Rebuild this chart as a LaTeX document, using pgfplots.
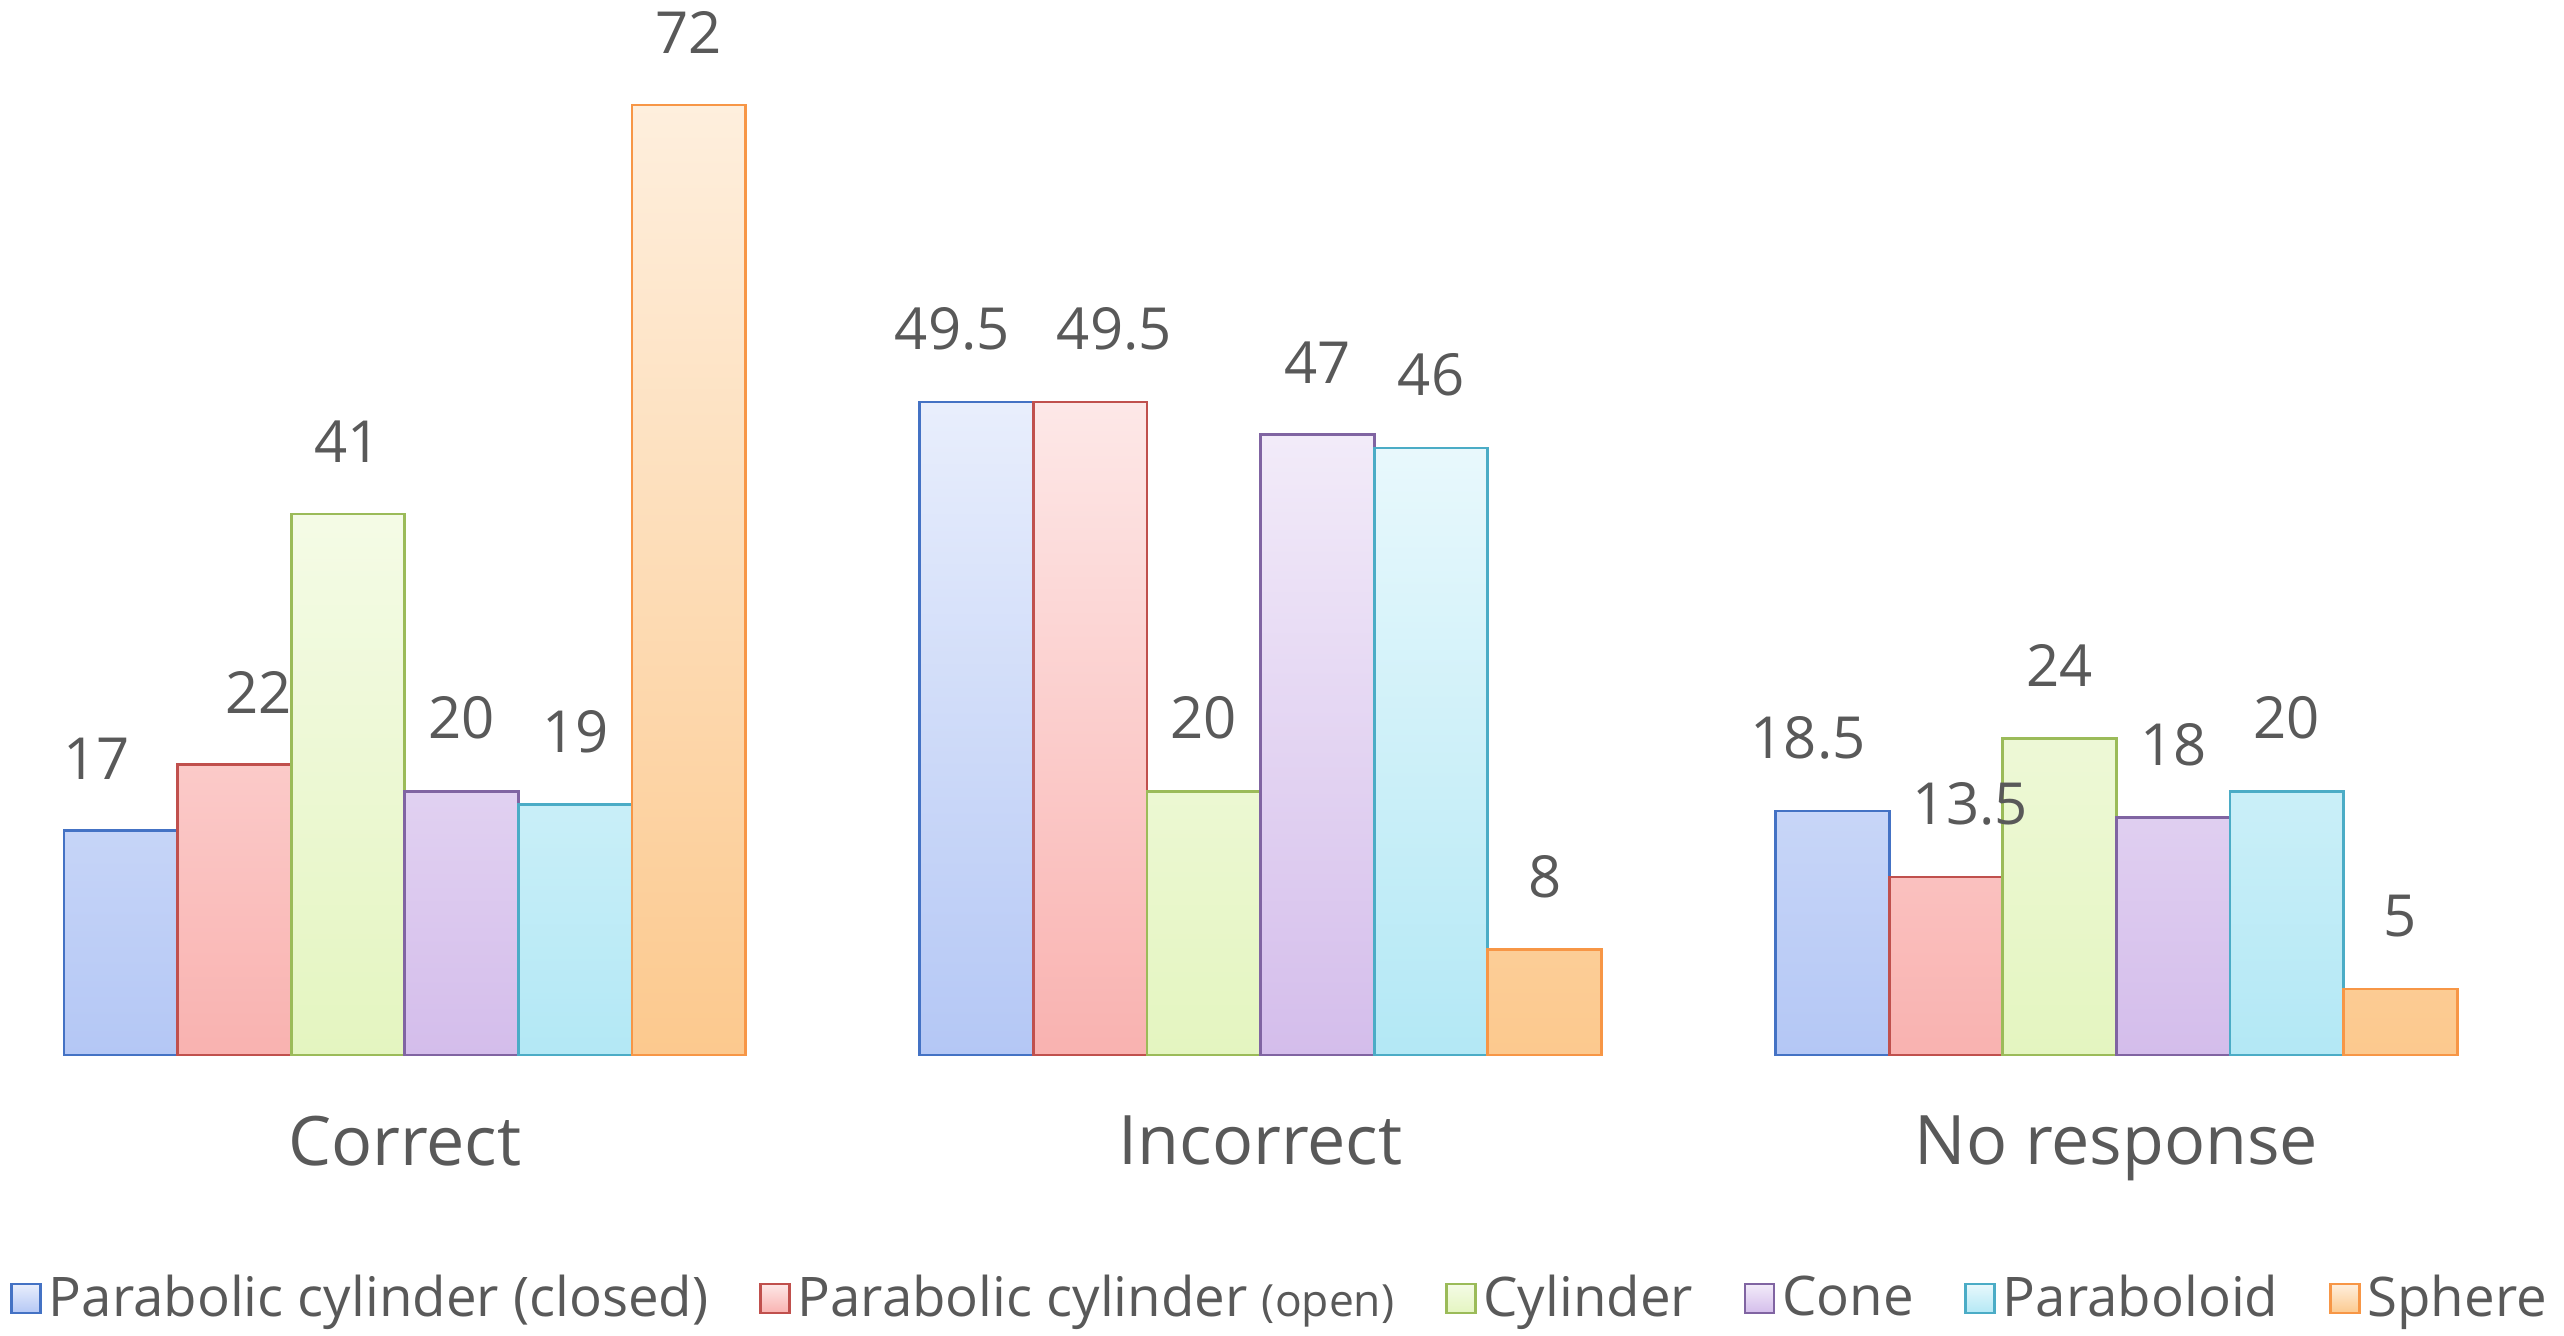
\documentclass[border=0pt]{standalone}
\usepackage{fontspec}
\setmainfont{Open Sans}
\usepackage{pgfplots}
\pgfplotsset{compat=1.18}
\definecolor{txt}{HTML}{595959}
\definecolor{cB}{HTML}{4472C4}\definecolor{fB}{HTML}{B4C7F5}
\definecolor{cR}{HTML}{C0504D}\definecolor{fR}{HTML}{F9B2B0}
\definecolor{cG}{HTML}{9BBB59}\definecolor{fG}{HTML}{E4F5C0}
\definecolor{cP}{HTML}{8064A2}\definecolor{fP}{HTML}{D4BDEB}
\definecolor{cC}{HTML}{4BACC6}\definecolor{fC}{HTML}{B3E8F5}
\definecolor{cO}{HTML}{F79646}\definecolor{fO}{HTML}{FCC98E}
\begin{document}
\begin{tikzpicture}
\begin{axis}[
  scale only axis, width=26cm, height=10.6cm,
  ybar=0pt, bar width=1.17cm,
  xmin=-0.45, xmax=2.5, ymin=0, ymax=78,
  axis line style={draw=none}, ytick=\empty, major tick length=0pt,
  xtick={0,1,2}, xticklabels={Correct,Incorrect,No response},
  xticklabel style={font=\fontsize{20}{24}\selectfont, text=txt, yshift=-0.5cm},
  nodes near coords, every node near coord/.append style={font=\fontsize{17}{20}\selectfont, text=txt, yshift=0.4cm},
  point meta=explicit symbolic,
  legend style={at={(0.5,-0.2)}, anchor=north, draw=none, legend columns=6,
    font=\fontsize{16}{19}\selectfont, text=txt, /tikz/every even column/.append style={column sep=0.45cm}},
  legend image code/.code={\draw[#1] (0cm,-0.15cm) rectangle (0.3cm,0.15cm);},
]
\addplot[draw=cB, thick, top color=fB!30!white, bottom color=fB, nodes near coords style={xshift=-0.25cm}] coordinates {(0,17)[17] (1,49.5)[49.5] (2,18.5)[18.5]};
\addplot[draw=cR, thick, top color=fR!30!white, bottom color=fR, nodes near coords style={xshift=0.25cm}] coordinates {(0,22)[22] (1,49.5)[49.5] (2,13.5)[13.5]};
\addplot[draw=cG, thick, top color=fG!40!white, bottom color=fG] coordinates {(0,41)[41] (1,20)[20] (2,24)[24]};
\addplot[draw=cP, thick, top color=fP!30!white, bottom color=fP] coordinates {(0,20)[20] (1,47)[47] (2,18)[18]};
\addplot[draw=cC, thick, top color=fC!30!white, bottom color=fC] coordinates {(0,19)[19] (1,46)[46] (2,20)[20]};
\addplot[draw=cO, thick, top color=fO!30!white, bottom color=fO] coordinates {(0,72)[72] (1,8)[8] (2,5)[5]};
\legend{Parabolic cylinder (closed), Parabolic cylinder {\fontsize{13}{16}\selectfont(open)}, Cylinder, Cone, Paraboloid, Sphere}
\end{axis}
\end{tikzpicture}
\end{document}
